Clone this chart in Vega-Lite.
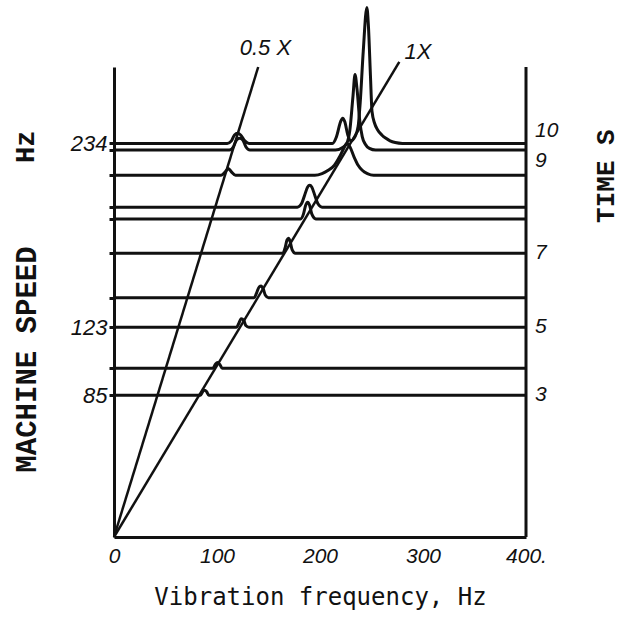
{
  "$schema": "https://vega.github.io/schema/vega-lite/v6.json",
  "width": 412,
  "height": 470,
  "autosize": "none",
  "padding": {"left": 114, "top": 67, "right": 103, "bottom": 81},
  "background": "white",
  "config": {"view": {"stroke": null}},
  "datasets": {
    "traces": [
      {"trace": "t1", "freq": 0, "speed": 234.5}, {"trace": "t1", "freq": 110, "speed": 234.5}, {"trace": "t1", "freq": 114, "speed": 236}, {"trace": "t1", "freq": 117, "speed": 239.5}, {"trace": "t1", "freq": 120, "speed": 240.5}, {"trace": "t1", "freq": 123, "speed": 239.5}, {"trace": "t1", "freq": 127, "speed": 236}, {"trace": "t1", "freq": 131, "speed": 234.5}, {"trace": "t1", "freq": 212, "speed": 234.5}, {"trace": "t1", "freq": 216, "speed": 238.5}, {"trace": "t1", "freq": 220, "speed": 247.5}, {"trace": "t1", "freq": 222, "speed": 249.5}, {"trace": "t1", "freq": 224, "speed": 247.5}, {"trace": "t1", "freq": 227, "speed": 239.5}, {"trace": "t1", "freq": 230, "speed": 236}, {"trace": "t1", "freq": 234, "speed": 238.5}, {"trace": "t1", "freq": 237, "speed": 244.5}, {"trace": "t1", "freq": 239, "speed": 258.5}, {"trace": "t1", "freq": 242, "speed": 289.5}, {"trace": "t1", "freq": 245.5, "speed": 315.5}, {"trace": "t1", "freq": 247, "speed": 304.5}, {"trace": "t1", "freq": 249, "speed": 274.5}, {"trace": "t1", "freq": 250.5, "speed": 253.5}, {"trace": "t1", "freq": 253, "speed": 246.5}, {"trace": "t1", "freq": 256, "speed": 242.5}, {"trace": "t1", "freq": 260, "speed": 239.5}, {"trace": "t1", "freq": 264, "speed": 237.5}, {"trace": "t1", "freq": 268, "speed": 236}, {"trace": "t1", "freq": 273, "speed": 235}, {"trace": "t1", "freq": 280, "speed": 234.5}, {"trace": "t1", "freq": 400, "speed": 234.5},
      {"trace": "t2", "freq": 0, "speed": 230.5}, {"trace": "t2", "freq": 112, "speed": 230.5}, {"trace": "t2", "freq": 116, "speed": 232.5}, {"trace": "t2", "freq": 119, "speed": 236.5}, {"trace": "t2", "freq": 122, "speed": 237.5}, {"trace": "t2", "freq": 125, "speed": 236.5}, {"trace": "t2", "freq": 128, "speed": 232.5}, {"trace": "t2", "freq": 132, "speed": 230.5}, {"trace": "t2", "freq": 215, "speed": 230.5}, {"trace": "t2", "freq": 222, "speed": 232}, {"trace": "t2", "freq": 226, "speed": 234.5}, {"trace": "t2", "freq": 229, "speed": 242.5}, {"trace": "t2", "freq": 232, "speed": 262.5}, {"trace": "t2", "freq": 234, "speed": 275.5}, {"trace": "t2", "freq": 236, "speed": 266.5}, {"trace": "t2", "freq": 238.5, "speed": 248.5}, {"trace": "t2", "freq": 241, "speed": 238.5}, {"trace": "t2", "freq": 244, "speed": 234}, {"trace": "t2", "freq": 248, "speed": 231.5}, {"trace": "t2", "freq": 254, "speed": 230.5}, {"trace": "t2", "freq": 400, "speed": 230.5},
      {"trace": "t3", "freq": 0, "speed": 215.5}, {"trace": "t3", "freq": 104, "speed": 215.5}, {"trace": "t3", "freq": 108, "speed": 217.5}, {"trace": "t3", "freq": 111, "speed": 219.5}, {"trace": "t3", "freq": 114, "speed": 217.5}, {"trace": "t3", "freq": 118, "speed": 215.5}, {"trace": "t3", "freq": 195, "speed": 215.5}, {"trace": "t3", "freq": 202, "speed": 216.5}, {"trace": "t3", "freq": 208, "speed": 218.5}, {"trace": "t3", "freq": 214, "speed": 221.5}, {"trace": "t3", "freq": 219, "speed": 226.5}, {"trace": "t3", "freq": 223, "speed": 231.5}, {"trace": "t3", "freq": 226, "speed": 234.5}, {"trace": "t3", "freq": 229, "speed": 232.5}, {"trace": "t3", "freq": 233, "speed": 226.5}, {"trace": "t3", "freq": 237, "speed": 221.5}, {"trace": "t3", "freq": 241, "speed": 218.5}, {"trace": "t3", "freq": 246, "speed": 216.5}, {"trace": "t3", "freq": 252, "speed": 215.5}, {"trace": "t3", "freq": 400, "speed": 215.5},
      {"trace": "t4", "freq": 0, "speed": 196.5}, {"trace": "t4", "freq": 178, "speed": 196.5}, {"trace": "t4", "freq": 182, "speed": 198.5}, {"trace": "t4", "freq": 185, "speed": 203.5}, {"trace": "t4", "freq": 188, "speed": 208.5}, {"trace": "t4", "freq": 190, "speed": 209.5}, {"trace": "t4", "freq": 192, "speed": 208.5}, {"trace": "t4", "freq": 195, "speed": 203.5}, {"trace": "t4", "freq": 198, "speed": 198.5}, {"trace": "t4", "freq": 202, "speed": 196.5}, {"trace": "t4", "freq": 400, "speed": 196.5},
      {"trace": "t5", "freq": 0, "speed": 189.5}, {"trace": "t5", "freq": 181, "speed": 189.5}, {"trace": "t5", "freq": 184, "speed": 192.5}, {"trace": "t5", "freq": 186, "speed": 197.5}, {"trace": "t5", "freq": 188, "speed": 199.5}, {"trace": "t5", "freq": 190, "speed": 197.5}, {"trace": "t5", "freq": 192, "speed": 192.5}, {"trace": "t5", "freq": 196, "speed": 189.5}, {"trace": "t5", "freq": 400, "speed": 189.5},
      {"trace": "t6", "freq": 0, "speed": 169}, {"trace": "t6", "freq": 164, "speed": 169}, {"trace": "t6", "freq": 166, "speed": 172}, {"trace": "t6", "freq": 168, "speed": 177}, {"trace": "t6", "freq": 169.5, "speed": 178}, {"trace": "t6", "freq": 171, "speed": 176}, {"trace": "t6", "freq": 173, "speed": 171}, {"trace": "t6", "freq": 176, "speed": 169}, {"trace": "t6", "freq": 400, "speed": 169},
      {"trace": "t7", "freq": 0, "speed": 142.5}, {"trace": "t7", "freq": 136, "speed": 142.5}, {"trace": "t7", "freq": 138.5, "speed": 145.5}, {"trace": "t7", "freq": 141, "speed": 149}, {"trace": "t7", "freq": 143, "speed": 149.5}, {"trace": "t7", "freq": 145, "speed": 147.5}, {"trace": "t7", "freq": 147, "speed": 144}, {"trace": "t7", "freq": 150, "speed": 142.5}, {"trace": "t7", "freq": 400, "speed": 142.5},
      {"trace": "t8", "freq": 0, "speed": 125}, {"trace": "t8", "freq": 119, "speed": 125}, {"trace": "t8", "freq": 121, "speed": 127}, {"trace": "t8", "freq": 123.5, "speed": 130}, {"trace": "t8", "freq": 126, "speed": 129}, {"trace": "t8", "freq": 128, "speed": 126}, {"trace": "t8", "freq": 131, "speed": 125}, {"trace": "t8", "freq": 400, "speed": 125},
      {"trace": "t9", "freq": 0, "speed": 100.5}, {"trace": "t9", "freq": 96, "speed": 100.5}, {"trace": "t9", "freq": 98.5, "speed": 103}, {"trace": "t9", "freq": 100.5, "speed": 104}, {"trace": "t9", "freq": 103, "speed": 102.5}, {"trace": "t9", "freq": 105, "speed": 100.5}, {"trace": "t9", "freq": 400, "speed": 100.5},
      {"trace": "t10", "freq": 0, "speed": 84.5}, {"trace": "t10", "freq": 84, "speed": 84.5}, {"trace": "t10", "freq": 86, "speed": 86.5}, {"trace": "t10", "freq": 88, "speed": 87.5}, {"trace": "t10", "freq": 90, "speed": 86.5}, {"trace": "t10", "freq": 92, "speed": 84.5}, {"trace": "t10", "freq": 400, "speed": 84.5}
    ],
    "orders": [
      {"order": "0.5X", "freq": 0, "speed": 0}, {"order": "0.5X", "freq": 140, "speed": 280},
      {"order": "1X", "freq": 0, "speed": 0}, {"order": "1X", "freq": 277, "speed": 283}
    ],
    "orderLabels": [
      {"label": "0.5 X", "freq": 147, "speed": 291.5},
      {"label": "1X", "freq": 295, "speed": 289}
    ],
    "border": [{"freq": 400, "speed": 0, "top": 280}],
    "timeLabels": [
      {"label": "10", "freq": 400, "speed": 242},
      {"label": "9", "freq": 400, "speed": 224},
      {"label": "7", "freq": 400, "speed": 169},
      {"label": "5", "freq": 400, "speed": 125},
      {"label": "3", "freq": 400, "speed": 84.5}
    ],
    "hzLabel": [{"label": "Hz", "freq": 0, "speed": 232.5}],
    "timeTitle": [{"label": "TIME S", "freq": 400, "speed": 215}]
  },
  "encoding": {
    "x": {
      "field": "freq", "type": "quantitative",
      "scale": {"domain": [0, 400], "nice": false, "zero": false},
      "axis": {
        "values": [0, 100, 200, 300, 400],
        "labelExpr": "datum.value == 400 ? '400.' : datum.label",
        "labelFont": "Liberation Sans", "labelFontStyle": "italic", "labelFontSize": 21, "labelColor": "#111",
        "labelPadding": 8, "labelFlush": false, "ticks": false, "grid": false,
        "domainColor": "#111", "domainWidth": 3,
        "title": "Vibration frequency, Hz", "titleFont": "DejaVu Sans Mono", "titleFontSize": 24,
        "titleFontWeight": "normal", "titleColor": "#111", "titleY": 67, "titleBaseline": "alphabetic"
      }
    },
    "y": {
      "field": "speed", "type": "quantitative",
      "scale": {"domain": [0, 280], "nice": false, "zero": false},
      "axis": {
        "values": [84.5, 100.5, 125, 142.5, 169, 189.5, 196.5, 215.5, 230.5, 234.5],
        "labelExpr": "datum.value == 84.5 ? '85' : datum.value == 125 ? '123' : datum.value == 234.5 ? '234' : ''",
        "labelFont": "Liberation Sans", "labelFontStyle": "italic", "labelFontSize": 22, "labelColor": "#111",
        "labelPadding": 2, "tickSize": 5, "tickWidth": 3, "tickColor": "#111", "grid": false,
        "domainColor": "#111", "domainWidth": 3,
        "title": "MACHINE SPEED", "titleFont": "Liberation Mono", "titleFontSize": 29, "titleFontWeight": "bold",
        "titleColor": "#111", "titleAngle": 270, "titleX": -88, "titleY": 292, "titleAlign": "center", "titleBaseline": "middle"
      }
    }
  },
  "layer": [
    {
      "data": {"name": "traces"},
      "mark": {"type": "line", "color": "#111", "strokeWidth": 3, "interpolate": "monotone"},
      "encoding": {"detail": {"field": "trace"}}
    },
    {
      "data": {"name": "orders"},
      "mark": {"type": "line", "color": "#111", "strokeWidth": 2.5},
      "encoding": {"detail": {"field": "order"}}
    },
    {
      "data": {"name": "border"},
      "mark": {"type": "rule", "color": "#111", "strokeWidth": 3},
      "encoding": {"y2": {"field": "top"}}
    },
    {
      "data": {"name": "orderLabels"},
      "mark": {"type": "text", "font": "Liberation Sans", "fontStyle": "italic", "fontSize": 22, "color": "#111", "align": "center", "baseline": "middle"},
      "encoding": {"text": {"field": "label"}}
    },
    {
      "data": {"name": "timeLabels"},
      "mark": {"type": "text", "font": "Liberation Sans", "fontStyle": "italic", "fontSize": 21, "color": "#111", "align": "left", "baseline": "middle", "dx": 9},
      "encoding": {"text": {"field": "label"}}
    },
    {
      "data": {"name": "hzLabel"},
      "mark": {"type": "text", "font": "Liberation Mono", "fontWeight": "bold", "fontSize": 27, "color": "#111", "align": "center", "baseline": "middle", "angle": 270, "dy": -88},
      "encoding": {"text": {"field": "label"}}
    },
    {
      "data": {"name": "timeTitle"},
      "mark": {"type": "text", "font": "Liberation Mono", "fontWeight": "bold", "fontSize": 26, "color": "#111", "align": "center", "baseline": "middle", "angle": 270, "dy": 80},
      "encoding": {"text": {"field": "label"}}
    }
  ]
}
